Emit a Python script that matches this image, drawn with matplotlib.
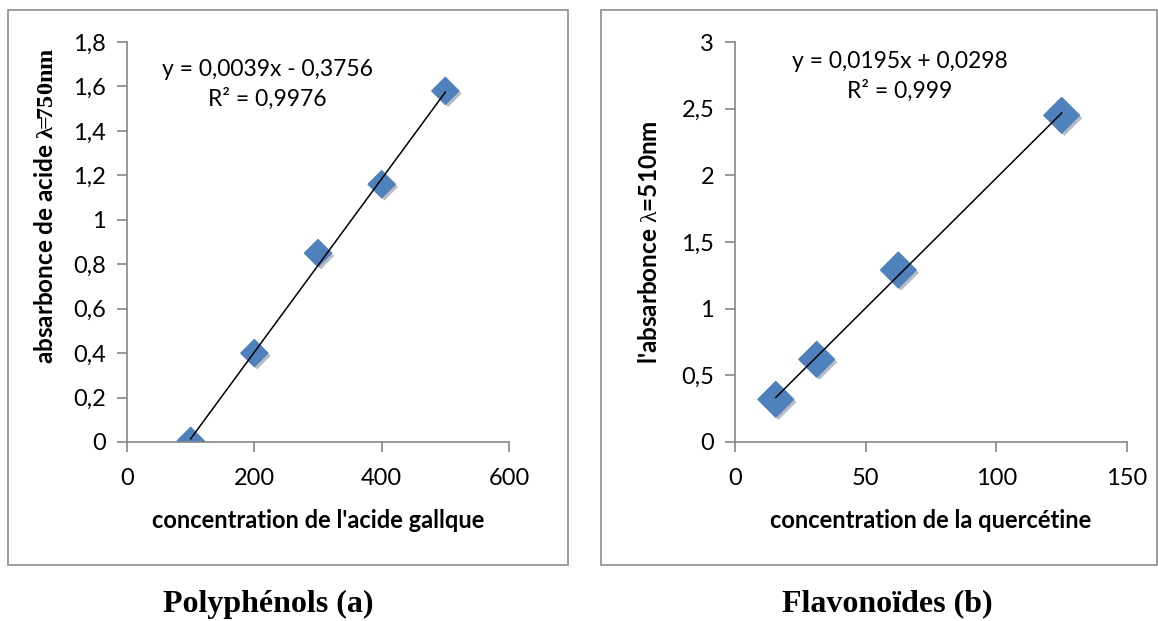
import numpy as np
import matplotlib
matplotlib.use("Agg")
import matplotlib.pyplot as plt
import matplotlib.patheffects as pe
from matplotlib.patches import Rectangle

plt.rcParams['font.family'] = ['Lato', 'DejaVu Sans']
plt.rcParams['mathtext.fontset'] = 'custom'
plt.rcParams['mathtext.rm'] = 'Liberation Serif'
plt.rcParams['mathtext.bf'] = 'Liberation Serif:bold'

# polyphenols (gallic acid standard)
poly_x = [100, 200, 300, 400, 500]
poly_y = [0.005, 0.40, 0.85, 1.16, 1.58]
poly_slope, poly_icpt = 0.0039, -0.3756
poly_eq = ["y = 0,0039x - 0,3756", "R² = 0,9976"]
poly_xticks = [0, 200, 400, 600]
poly_yticks = [0, 0.2, 0.4, 0.6, 0.8, 1, 1.2, 1.4, 1.6, 1.8]

# flavonoids (quercetin standard)
flav_x = [15.6, 31.25, 62.5, 125]
flav_y = [0.32, 0.62, 1.29, 2.45]
flav_slope, flav_icpt = 0.0195, 0.0298
flav_eq = ["y = 0,0195x + 0,0298", "R² = 0,999"]
flav_xticks = [0, 50, 100, 150]
flav_yticks = [0, 0.5, 1, 1.5, 2, 2.5, 3]

blue = '#4F81BD'
grey = '#868686'

W, H = 1158, 621
fig = plt.figure(figsize=(W / 100, H / 100), dpi=100)

# grey chart frames
for x0, x1 in [(8, 568), (601, 1157)]:
    fig.patches.append(Rectangle((x0 / W, 1 - 565 / H), (x1 - x0) / W, 555 / H,
                                 transform=fig.transFigure, fill=False,
                                 edgecolor='#8c8c8c', linewidth=1.2))


def fmt(v):
    return ('%g' % v).replace('.', ',')


def panel(rect, xs, ys, slope, icpt, eq, xticks, yticks, eq_pos, msize,
          xlabel, ylabel, ylab_xy):
    ax = fig.add_axes(rect)
    ax.set_xlim(xticks[0], xticks[-1])
    ax.set_ylim(yticks[0], yticks[-1])
    xl = np.array([min(xs), max(xs)])
    ax.plot(xl, slope * xl + icpt, color='black', lw=1.1, zorder=3)
    ax.scatter(xs, ys, marker='D', s=msize, color=blue, zorder=2,
               path_effects=[pe.SimplePatchShadow(offset=(2, -2), alpha=0.3),
                             pe.Normal()])
    ax.set_xticks(xticks)
    ax.set_xticklabels([fmt(v) for v in xticks])
    ax.set_yticks(yticks)
    ax.set_yticklabels([fmt(v) for v in yticks])
    for s in ['top', 'right']:
        ax.spines[s].set_visible(False)
    for s in ['left', 'bottom']:
        ax.spines[s].set_color(grey)
        ax.spines[s].set_linewidth(1.2)
    ax.tick_params(direction='out', length=7, width=1.2, color=grey,
                   labelsize=17)
    ax.tick_params(axis='x', pad=12)
    ax.tick_params(axis='y', pad=8)
    ax.set_xlabel(xlabel, fontsize=17, fontweight='bold', labelpad=14)
    ax.set_ylabel(ylabel, fontsize=17.5, fontweight='bold')
    ax.yaxis.set_label_coords(*ylab_xy)
    ax.text(eq_pos[0], eq_pos[1], eq[0] + '\n' + eq[1], ha='center',
            va='center', fontsize=16.5, linespacing=1.45)
    ax.patch.set_alpha(0)
    return ax


panel([127 / W, 1 - 442 / H, 382 / W, 400 / H], poly_x, poly_y, poly_slope,
      poly_icpt, poly_eq, poly_xticks, poly_yticks, (221, 1.61), 190,
      "concentration de l'acide gallque",
      r"absarbonce de acide $\mathbf{\lambda\!\!=\!\!750nm}$",
      (-70 / 382, 0.59))

panel([735 / W, 1 - 442 / H, 392 / W, 400 / H], flav_x, flav_y, flav_slope,
      flav_icpt, flav_eq, flav_xticks, flav_yticks, (63, 2.74), 330,
      "concentration de la quercétine",
      r"l'absarbonce $\mathrm{\lambda}$=510nm",
      (-74 / 392, 0.5))

fig.text(268 / W, 1 - 604 / H, 'Polyphénols (a)', ha='center', va='center',
         fontsize=23, fontweight='bold', family='Liberation Serif')
fig.text(887 / W, 1 - 604 / H, 'Flavonoïdes (b)', ha='center', va='center',
         fontsize=23, fontweight='bold', family='Liberation Serif')

fig.savefig('out.png', dpi=100)
